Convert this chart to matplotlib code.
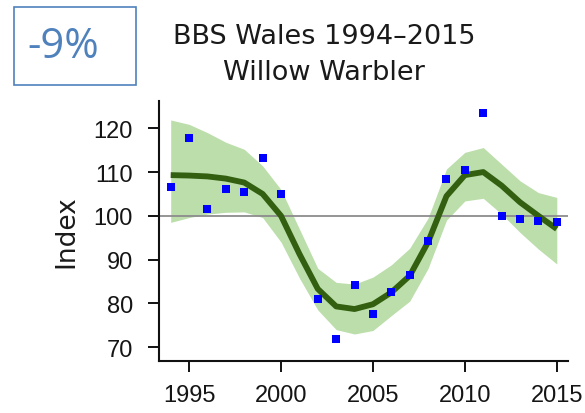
import numpy as np
import matplotlib
matplotlib.use("Agg")
import matplotlib.pyplot as plt
from matplotlib.patches import Rectangle

years = list(range(1994, 2016))
index_values = [106.6, 117.7, 101.6, 106.1, 105.5, 113.3, 104.9, np.nan, 80.9, 71.8,
                84.2, 77.5, 82.6, 86.4, 94.2, 108.3, 110.5, 123.4, 99.9, 99.3, 98.8, 98.7]
trend = [109.3, 109.2, 109.0, 108.5, 107.6, 105.0, 100.0, 91.3, 83.3, 79.3,
         78.7, 79.8, 82.5, 86.3, 94.0, 104.5, 109.3, 110.0, 106.9, 103.1, 100.0, 97.0]
upper = [121.9, 120.9, 119.0, 116.8, 115.2, 111.4, 106.0, 97.0, 88.0, 84.8,
         84.4, 86.0, 88.8, 92.6, 99.5, 110.7, 114.5, 115.6, 111.8, 108.0, 105.3, 104.2]
lower = [98.5, 99.6, 100.4, 100.8, 100.9, 99.6, 94.0, 85.8, 78.5, 74.0,
         73.0, 73.8, 77.2, 80.5, 88.0, 99.0, 103.4, 104.0, 100.4, 96.2, 92.4, 89.0]
xticks = [1995, 2000, 2005, 2010, 2015]
yticks = [70, 80, 90, 100, 110, 120]
title_text = "BBS Wales 1994\u20132015\nWillow Warbler"
change_text = "-9%"

W, H = 585, 414
fig = plt.figure(figsize=(W / 100, H / 100), dpi=100)
ax = fig.add_axes([159.3 / W, 1 - 361.7 / H, (568 - 159.3) / W, (361.7 - 101.7) / H])

ax.fill_between(years, lower, upper, color="#bcdeab", linewidth=0, zorder=1)
ax.axhline(100, color="#8c8c8c", linewidth=1.3, zorder=2)
ax.plot(years, trend, color="#335f10", linewidth=4.2, solid_capstyle="butt",
        solid_joinstyle="round", zorder=3)
ax.plot(years, index_values, linestyle="none", marker="s", markersize=5.5,
        color="#0000ff", markeredgewidth=0, zorder=4)

ax.set_xlim(1993.38, 2015.61)
ax.set_ylim(66.9, 126.3)
ax.set_xticks(xticks)
ax.set_yticks(yticks)
for s in ["top", "right"]:
    ax.spines[s].set_visible(False)
for s in ["left", "bottom"]:
    ax.spines[s].set_linewidth(1.5)
    ax.spines[s].set_color("#111111")
ax.tick_params(axis="both", direction="out", length=8, width=1.4, color="#111111",
               labelsize=17, labelcolor="#151515")
ax.tick_params(axis="x", pad=9)
ax.tick_params(axis="y", pad=11)
for lab in ax.get_xticklabels() + ax.get_yticklabels():
    lab.set_family("Liberation Sans")

ax.set_ylabel("Index", fontsize=19, family="DejaVu Sans", color="#1a1a1a", labelpad=10)

fig.text(324 / W, 1 - 55 / H, title_text, ha="center", va="center",
         fontsize=19.5, family="DejaVu Sans", color="#1a1a1a", linespacing=1.5)

fig.patches.append(Rectangle((14 / W, 1 - 86 / H), 122 / W, 77.7 / H,
                             transform=fig.transFigure, fill=False,
                             edgecolor="#4f81bd", linewidth=1.2))
fig.text(63 / W, 1 - 47 / H, change_text, ha="center", va="center",
         fontsize=30, family="Open Sans", color="#4f81bd")

fig.savefig("out.png", dpi=100, facecolor="white")
